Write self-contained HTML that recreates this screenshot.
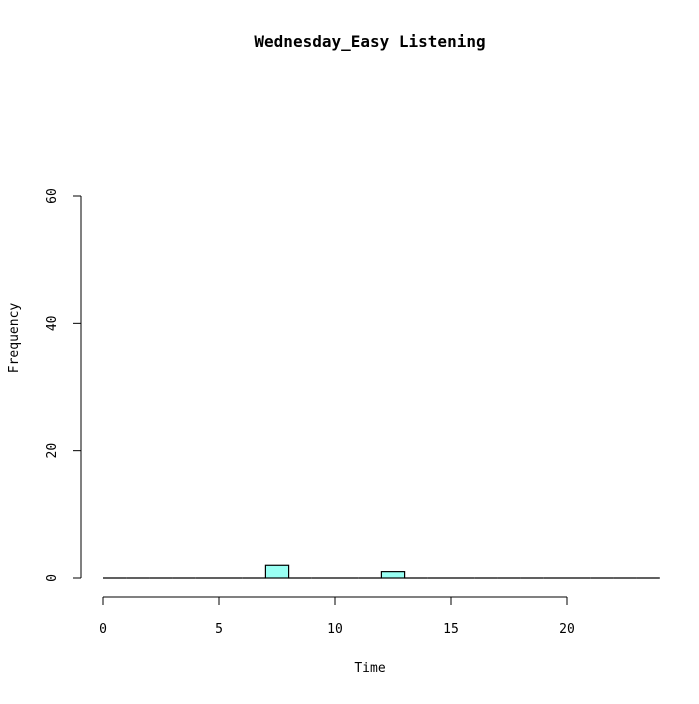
<!DOCTYPE html>
<html><head><meta charset="utf-8"><style>
body{margin:0;background:#fff;}
svg text{font-family:"DejaVu Sans Mono","Liberation Mono",monospace;font-size:13px;fill:#000;}
</style></head><body>
<svg width="699" height="699" xmlns="http://www.w3.org/2000/svg">
<text x="370" y="47" text-anchor="middle" style="font-weight:bold;font-size:16px">Wednesday_Easy Listening</text>
<text x="370" y="672" text-anchor="middle">Time</text>
<text transform="translate(18,338) rotate(-90)" text-anchor="middle">Frequency</text>
<g id="bars"></g>
<g id="xaxis"></g>
<g id="yaxis"></g>
</svg>
<script>
const binStarts=[0,1,2,3,4,5,6,7,8,9,10,11,12,13,14,15,16,17,18,19,20,21,22,23];
const counts=[0,0,0,0,0,0,0,2,0,0,0,0,1,0,0,0,0,0,0,0,0,0,0,0];
const xTicks=[0,5,10,15,20];
const yTicks=[0,20,40,60];
const NS="http://www.w3.org/2000/svg";
const xs=v=>103+v*23.2;
const ys=v=>578-v*(382/60);
function mk(t,a,p){const e=document.createElementNS(NS,t);for(const k in a)e.setAttribute(k,a[k]);p.appendChild(e);return e;}
const bars=document.getElementById('bars');
binStarts.forEach((b,i)=>{
 const h=counts[i];
 let r;
 if(h>0){
  r=mk('rect',{x:xs(b),y:ys(h),width:xs(b+1)-xs(b),height:ys(0)-ys(h),fill:'#99fff3',stroke:'#000','stroke-width':1.2},bars);
 } else {
  r=mk('line',{x1:xs(b),x2:xs(b+1),y1:ys(0),y2:ys(0),stroke:'#000','stroke-width':1.2},bars);
 }
 
 
});
const xa=document.getElementById('xaxis');
const xl=mk('line',{x1:xs(xTicks[0]),x2:xs(xTicks[xTicks.length-1]),y1:597,y2:597,stroke:'#000'},xa);


xTicks.forEach(t=>{
 mk('line',{x1:xs(t),x2:xs(t),y1:597,y2:605,stroke:'#000'},xa);
 const tx=mk('text',{x:xs(t),y:633,'text-anchor':'middle'},xa);tx.textContent=t;
 
 
});
const ya=document.getElementById('yaxis');
const yl=mk('line',{x1:81,x2:81,y1:ys(yTicks[0]),y2:ys(yTicks[yTicks.length-1]),stroke:'#000'},ya);


yTicks.forEach(t=>{
 mk('line',{x1:73,x2:81,y1:ys(t),y2:ys(t),stroke:'#000'},ya);
 const tx=mk('text',{x:0,y:0,'text-anchor':'middle',transform:`translate(56,${ys(t)}) rotate(-90)`},ya);tx.textContent=t;
 
 
});
</script>
</body></html>
